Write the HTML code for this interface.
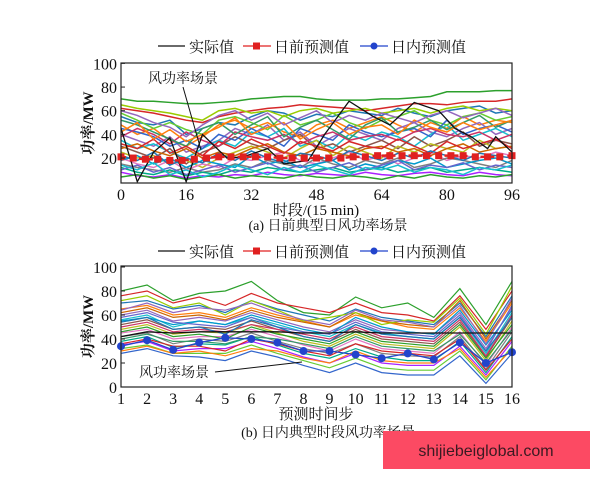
<!DOCTYPE html>
<html><head><meta charset="utf-8"><style>
body{margin:0;background:#fff}
svg text{font-family:"Liberation Serif","Noto Serif CJK SC",serif;fill:#111}
</style></head><body>
<svg id="c" width="600" height="480" viewBox="0 0 600 480">
<g id="ga"></g>
<g id="gb"></g>
<g>
<rect x="383" y="431" width="207" height="38" fill="#fc4a63"/>
<text x="486" y="456" text-anchor="middle" style="font-family:'Liberation Sans',sans-serif;font-size:16px;fill:#3a1a22">shijiebeiglobal.com</text>
</g>
</svg>
<script>
// ---- Panel (a) data ----
const aTicksX=[0,16,32,48,64,80,96];
const aTicksY=[20,40,60,80,100];
const aScenStep=4;
const aScenarios=[
[70,68,68,67,66,66,67,68,70,71,72,72,70,69,69,69,70,70,71,72,76,76,76,77,77],
[62,60,58,55,52,50,55,58,60,62,63,65,64,63,62,60,62,64,66,66,65,67,68,68,70],
[55,50,48,52,40,45,50,48,55,60,58,52,57,55,60,58,56,62,58,55,60,62,64,58,60],
[48,40,45,35,30,38,48,52,45,50,42,38,48,52,45,50,55,48,42,50,45,55,48,52,50],
[40,35,30,38,25,30,35,45,40,48,35,42,30,38,45,40,35,45,50,42,38,45,50,40,45],
[35,28,32,25,20,28,35,30,42,38,45,30,35,28,40,35,42,38,30,40,48,35,40,45,38],
[30,25,20,28,15,25,30,38,32,28,35,40,28,32,25,30,35,28,38,30,35,42,30,35,32],
[25,20,22,15,18,12,20,25,30,25,20,28,35,22,30,25,20,30,25,32,28,25,35,28,30],
[20,15,12,18,10,15,12,20,18,22,25,18,15,20,25,18,22,15,20,25,18,22,20,25,22],
[15,12,10,8,12,8,10,15,12,18,15,12,20,15,12,18,15,20,12,15,20,18,15,12,18],
[12,8,6,10,5,8,6,10,8,12,10,8,10,12,8,10,12,8,10,12,8,10,12,10,8],
[8,5,4,6,3,5,4,6,5,8,6,5,7,6,5,8,6,5,7,8,6,5,8,6,5],
[58,52,45,50,44,40,52,55,50,44,56,48,52,58,50,45,52,55,60,52,48,55,58,52,55],
[45,42,38,30,35,28,40,35,45,38,30,45,40,35,48,42,38,42,45,38,52,40,45,48,42],
[28,32,26,22,28,20,25,22,28,32,25,22,28,25,22,28,30,25,28,22,28,32,25,28,30],
[18,22,15,20,12,18,15,12,22,15,18,12,15,18,10,15,12,18,15,20,12,15,18,20,15],
[65,62,60,58,55,52,60,62,58,60,55,60,62,58,60,62,58,60,62,58,62,64,60,62,60],
[38,45,40,32,42,35,30,42,38,35,40,32,38,42,35,38,40,35,42,45,40,38,42,35,40],
[52,48,42,36,30,45,50,40,48,55,38,46,52,44,36,48,54,42,46,52,44,50,56,46,52],
[10,14,8,12,6,10,14,8,12,16,10,14,8,12,16,10,14,18,10,14,12,16,10,14,12],
[4,6,3,5,2,4,6,3,5,4,3,6,4,3,5,4,2,5,3,6,4,3,5,4,6],
[32,28,36,24,30,22,34,28,36,30,24,34,30,26,34,30,28,36,30,24,34,28,32,36,28],
[22,18,25,14,20,16,24,18,26,20,16,24,22,18,26,22,18,24,20,26,22,18,24,22,20],
[42,50,36,44,34,40,46,54,40,46,50,36,44,50,40,46,48,40,52,46,42,50,44,48,52],
[60,56,50,46,38,48,56,60,52,58,48,54,60,50,56,52,58,54,50,56,60,54,58,62,56],
[14,10,16,6,10,4,8,14,10,6,12,8,14,10,6,12,10,14,8,12,10,6,12,10,14]
];
const aActualX=[0,4,8,12,16,20,26,30,36,40,46,50,56,62,66,72,78,82,86,90,92,96];
const aActual=[45,0,25,37,0,40,20,21,28,15,18,40,68,55,48,67,60,45,38,28,38,25];
const aDayAheadStep=3;
const aDayAhead=[21,20,19,19,18,18,19,20,21,21,21,21,21,20,20,20,20,20,20,21,21,22,22,22,22,22,22,22,22,21,21,21,22];
// ---- Panel (b) data ----
const bTicksX=[1,2,3,4,5,6,7,8,9,10,11,12,13,14,15,16];
const bTicksY=[0,20,40,60,80,100];
const bScenarios=[
[80,85,72,78,80,88,72,62,60,75,66,70,58,82,52,88],
[76,80,70,75,68,78,70,66,62,70,62,60,55,76,48,80],
[70,72,65,68,62,72,65,60,55,65,58,55,52,70,42,76],
[65,68,60,62,58,66,60,55,50,60,55,50,48,66,38,70],
[60,64,55,58,55,62,56,50,46,56,48,46,44,62,32,66],
[56,60,50,55,52,58,52,46,42,52,45,42,40,58,28,62],
[52,56,48,50,48,55,48,42,38,48,40,38,36,54,25,58],
[48,52,44,46,45,52,45,38,34,44,36,34,32,50,22,55],
[45,48,40,42,42,48,42,35,30,40,32,30,28,46,18,50],
[42,45,36,40,38,45,38,32,28,36,28,26,25,42,15,46],
[38,42,33,36,35,42,35,28,24,32,25,22,22,38,12,42],
[35,38,30,32,32,38,32,25,20,28,20,18,18,34,10,38],
[32,35,28,28,28,35,28,22,16,24,16,14,14,30,6,34],
[28,32,26,25,22,30,25,18,12,20,12,10,10,26,3,28],
[62,66,58,60,56,64,58,54,50,62,55,52,50,72,40,72],
[55,58,52,55,52,60,54,48,44,58,50,46,44,64,35,64],
[72,76,66,70,60,72,64,55,58,62,52,56,54,74,44,84],
[50,54,46,48,46,52,48,44,40,50,42,40,38,56,26,60],
[40,44,38,38,36,42,40,36,32,42,34,32,30,44,20,48],
[58,62,54,52,50,58,50,46,44,54,46,44,42,60,30,68],
[46,50,42,44,40,50,44,40,36,46,38,36,34,52,24,52],
[36,40,34,34,30,40,36,30,26,36,30,28,26,40,14,40],
[54,58,48,50,44,56,50,42,38,52,44,42,40,58,30,58],
[30,34,28,30,26,32,30,24,20,30,22,20,20,32,8,32],
[64,70,62,66,64,70,62,56,52,64,56,54,50,68,36,74]
];
const bActual=[42,46,45,46,46,46,46,45,45,46,45,45,45,45,45,45];
const bIntraday=[34,39,31,37,41,40,37,30,30,27,24,28,23,37,20,29];
const palette=['#2ca02c','#d62728','#1f77b4','#ff7f0e','#9467bd','#17becf','#8c564b','#bcbd22','#e377c2','#7f7f7f','#00aa88','#aa22ff','#66cc33','#3366cc','#cc6600','#0099cc','#99cc00','#cc3366','#339966','#6666cc'];
const NS='http://www.w3.org/2000/svg';
function mk(p,t,a){const e=document.createElementNS(NS,t);for(const k in a)e.setAttribute(k,a[k]);p.appendChild(e);return e;}
function txt(p,x,y,s,size,anchor){const e=mk(p,'text',{x:x,y:y,'font-size':size,'text-anchor':anchor||'middle'});e.textContent=s;return e;}
function legend(g,y){
 const l=mk(g,'g',{});
 
 
 mk(l,'line',{x1:158,y1:y,x2:185,y2:y,stroke:'#111','stroke-width':1.2});
 txt(l,189,y+6,'实际值',15,'start');
 mk(l,'line',{x1:243,y1:y,x2:271,y2:y,stroke:'#e02020','stroke-width':1.2});
 mk(l,'rect',{x:253,y:y-3.5,width:7,height:7,fill:'#e02020'});
 txt(l,274,y+6,'日前预测值',15,'start');
 mk(l,'line',{x1:360,y1:y,x2:388,y2:y,stroke:'#2244cc','stroke-width':1.2});
 mk(l,'circle',{cx:374,cy:y,r:3.5,fill:'#2244cc'});
 txt(l,391,y+6,'日内预测值',15,'start');
}
function frame(g,L,R,T,B,ylab){
 const r=mk(g,'rect',{x:L,y:T,width:R-L,height:B-T,fill:'none',stroke:'#222','stroke-width':1.2});
 
 
 const t=txt(g,0,0,ylab,15);
 t.setAttribute('transform','translate('+(L-28)+','+((T+B)/2)+') rotate(-90)');
 t.setAttribute('font-weight','bold');
 
 
}
// Panel a
(function(){
 const g=document.getElementById('ga');
 const L=121,R=512,T=63,B=183;
 const x=v=>L+(v/96)*(R-L), y=v=>181.7-v*1.183;
 legend(g,46);
 const clip=mk(g,'clipPath',{id:'ca'});mk(clip,'rect',{x:L,y:T,width:R-L,height:B-T});
 const cg=mk(g,'g',{'clip-path':'url(#ca)'});
 aScenarios.forEach((s,i)=>{const p=mk(cg,'polyline',{points:s.map((v,j)=>x(j*aScenStep)+','+y(v)).join(' '),fill:'none',stroke:palette[i%palette.length],'stroke-width':1.5});
  
  });
 const ac=mk(cg,'polyline',{points:aActual.map((v,j)=>x(aActualX[j])+','+y(v)).join(' '),fill:'none',stroke:'#111','stroke-width':1.3});
 
 
 const da=mk(g,'polyline',{points:aDayAhead.map((v,j)=>x(j*aDayAheadStep)+','+y(v)).join(' '),fill:'none',stroke:'#e02020','stroke-width':2.5,'stroke-dasharray':'5 4'});
 
 
 aDayAhead.forEach((v,j)=>{const m=mk(g,'rect',{x:x(j*aDayAheadStep)-3.5,y:y(v)-3.5,width:7,height:7,fill:'#e02020'});
  
  });
 frame(g,L,R,T,B,'功率/MW');
 aTicksY.forEach(v=>{txt(g,L-4,y(v)+6,String(v),16,'end');mk(g,'line',{x1:L,y1:y(v),x2:L+4,y2:y(v),stroke:'#222'});});
 aTicksX.forEach(v=>{txt(g,x(v),B+17,String(v),16);});
 txt(g,316,215,'时段/(15 min)',15);
 txt(g,328,230,'(a)  日前典型日风功率场景',14);
 txt(g,148,83,'风功率场景',14,'start');
 mk(g,'line',{x1:183,y1:87,x2:201,y2:150,stroke:'#111','stroke-width':1});
})();
// Panel b
(function(){
 const g=document.getElementById('gb');
 const L=121,R=512,T=266,B=387;
 const x=v=>L+(v-1)/15*(R-L), y=v=>387-v*1.2;
 legend(g,251);
 bScenarios.forEach((s,i)=>{const p=mk(g,'polyline',{points:s.map((v,j)=>x(bTicksX[j])+','+y(v)).join(' '),fill:'none',stroke:palette[i%palette.length],'stroke-width':1.2});
  
  });
 const ac=mk(g,'polyline',{points:bActual.map((v,j)=>x(bTicksX[j])+','+y(v)).join(' '),fill:'none',stroke:'#111','stroke-width':1.3});
 
 
 const il=mk(g,'polyline',{points:bIntraday.map((v,j)=>x(bTicksX[j])+','+y(v)).join(' '),fill:'none',stroke:'#2244cc','stroke-width':1.3});
 
 
 bIntraday.forEach((v,j)=>{const c=mk(g,'circle',{cx:x(bTicksX[j]),cy:y(v),r:4,fill:'#2244cc'});
  
  });
 frame(g,L,R,T,B,'功率/MW');
 bTicksY.forEach(v=>{txt(g,L-4,y(v)+6,String(v),16,'end');mk(g,'line',{x1:L,y1:y(v),x2:L+4,y2:y(v),stroke:'#222'});});
 bTicksX.forEach(v=>{txt(g,x(v),B+17,String(v),16);});
 txt(g,316,419,'预测时间步',15);
 txt(g,328,437,'(b)  日内典型时段风功率场景',14);
 txt(g,139,377,'风功率场景',14,'start');
 mk(g,'line',{x1:215,y1:372,x2:302,y2:362,stroke:'#111','stroke-width':1});
})();
</script>
</body></html>
